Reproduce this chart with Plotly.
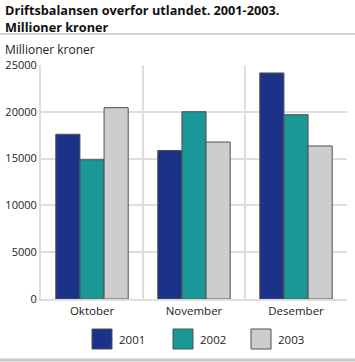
import plotly.graph_objects as go

categories = ["Oktober", "November", "Desember"]
series_names = ["2001", "2002", "2003"]
values_2001 = [17600, 15870, 24150]
values_2002 = [14880, 20010, 19690]
values_2003 = [20440, 16770, 16350]
series_colors = ["#1b3289", "#1a9797", "#cdcdcd"]
y_ticks = [0, 5000, 10000, 15000, 20000, 25000]

W, H = 355, 362
L, R, T, B = 41, 8, 65, 63
PW, PH = W - L - R, H - T - B

def px_x(px):
    return (px - L) / PW

def px_y(py):
    return (H - B - py) / PH

FONT = "Open Sans"
fig = go.Figure()
for name, vals, col in zip(series_names, [values_2001, values_2002, values_2003], series_colors):
    fig.add_trace(go.Bar(
        x=categories, y=vals, name=name,
        marker=dict(color=col, line=dict(color="#505050", width=1)),
        showlegend=False,
    ))

fig.update_layout(
    width=W, height=H,
    margin=dict(l=L, r=R, t=T, b=B, pad=0, autoexpand=False),
    paper_bgcolor="white", plot_bgcolor="white",
    barmode="group", bargap=0.29, bargroupgap=0,
    font=dict(family=FONT, size=11, color="#222222"),
    xaxis=dict(
        type="category", tickson="boundaries", showgrid=True,
        gridcolor="#dedede", gridwidth=2,
        showline=True, linecolor="#dedede", linewidth=2,
        ticks="", tickfont=dict(size=11.5), automargin=False,
        mirror=False, zeroline=False,
    ),
    yaxis=dict(
        range=[0, 25000], tickvals=y_ticks, tickformat="d",
        showgrid=True, gridcolor="#dedede", gridwidth=2,
        showline=True, linecolor="#dedede", linewidth=2,
        zeroline=False, ticks="", automargin=False,
        tickfont=dict(size=11),
    ),
)

# title as one two-line annotation
fig.add_annotation(text="<b>Driftsbalansen overfor utlandet. 2001-2003.<br>Millioner kroner</b>",
                   x=px_x(3), y=px_y(18), xref="paper", yref="paper",
                   xanchor="left", yanchor="middle", align="left", showarrow=False,
                   font=dict(size=12.7, color="#111111"))

# y-axis unit label
fig.add_annotation(text="Millioner kroner", x=px_x(3), y=px_y(49), xref="paper", yref="paper",
                   xanchor="left", yanchor="middle", showarrow=False,
                   font=dict(size=12, color="#222222"))

# title rule and bottom rule
fig.add_shape(type="line", xref="paper", yref="paper", x0=px_x(0), x1=px_x(W), y0=px_y(34), y1=px_y(34),
              line=dict(color="#a8a8a8", width=1))
fig.add_shape(type="line", xref="paper", yref="paper", x0=px_x(0), x1=px_x(W), y0=px_y(360), y1=px_y(360),
              line=dict(color="#c8c8c8", width=3))

# manual legend with large swatches
legend_x = [92, 173, 251]
for name, col, lx in zip(series_names, series_colors, legend_x):
    fig.add_shape(type="rect", xref="paper", yref="paper",
                  x0=px_x(lx), x1=px_x(lx + 20), y0=px_y(349), y1=px_y(329),
                  fillcolor=col, line=dict(color="#505050", width=1))
    fig.add_annotation(text=name, x=px_x(lx + 25), y=px_y(339), xref="paper", yref="paper",
                       xanchor="left", yanchor="middle", showarrow=False,
                       font=dict(size=11.5, color="#222222"))

fig.write_html("out.html", config={"displayModeBar": False},
               post_script="document.body.style.margin='0px';document.body.style.overflow='hidden';")
